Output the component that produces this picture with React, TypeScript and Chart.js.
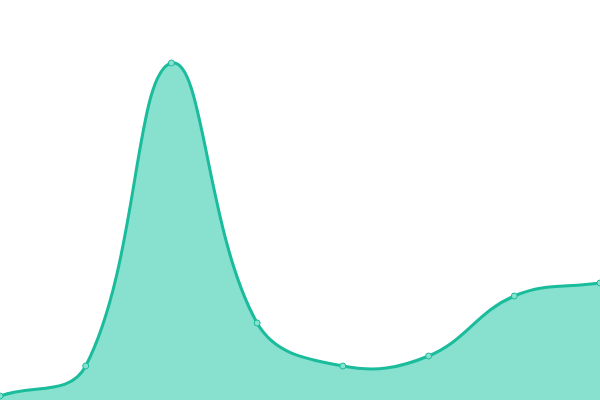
import { useEffect, useRef } from 'react';
import Chart from 'chart.js/auto';

const labels = ['1', '2', '3', '4', '5', '6', '7', '8'];
const values = [4, 34, 337, 77, 34, 44, 104, 117];

export default function App() {
  const canvasRef = useRef<HTMLCanvasElement | null>(null);
  const chartRef = useRef<Chart | null>(null);

  useEffect(() => {
    if (!canvasRef.current) return;
    const ctx = canvasRef.current.getContext('2d');
    if (!ctx) return;

    chartRef.current = new Chart(ctx, {
      type: 'line',
      data: {
        labels,
        datasets: [
          {
            data: values,
            fill: 'origin',
            backgroundColor: '#88e0cf',
            borderColor: '#1abc9c',
            borderWidth: 3,
            tension: 0.4,
            pointRadius: 3,
            pointBackgroundColor: '#88e0cf',
            pointBorderColor: '#1abc9c',
            pointBorderWidth: 1,
          },
        ],
      },
      options: {
        animation: false,
        responsive: true,
        maintainAspectRatio: false,
        layout: { padding: 0, autoPadding: false },
        plugins: { legend: { display: false }, tooltip: { enabled: false } },
        scales: {
          x: { display: false, offset: false },
          y: { display: false, min: 0, max: 400 },
        },
      },
    });

    return () => {
      chartRef.current?.destroy();
    };
  }, []);

  return (
    <div style={{ position: 'fixed', top: 0, left: 0, width: 600, height: 400 }}>
      <canvas ref={canvasRef}></canvas>
    </div>
  );
}
